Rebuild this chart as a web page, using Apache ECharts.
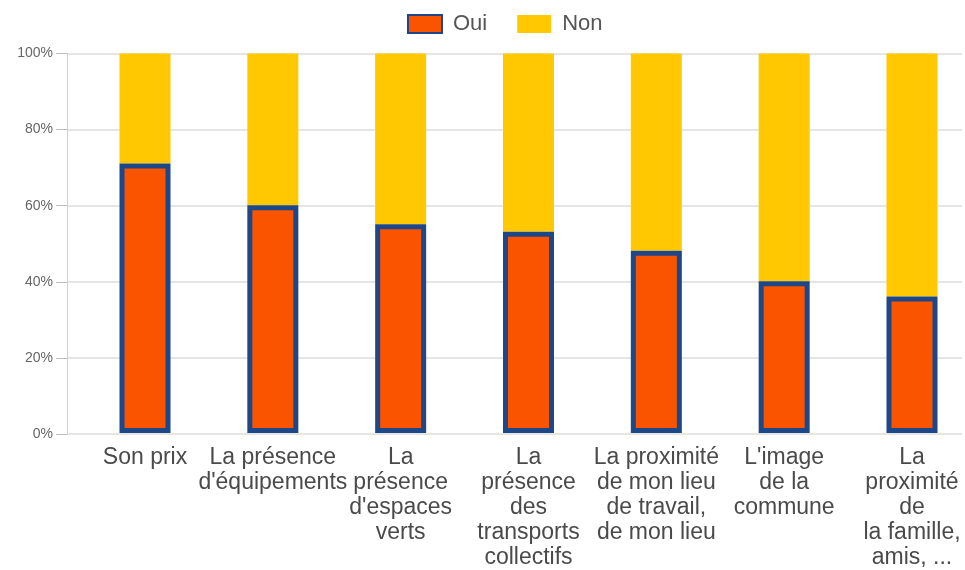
<!DOCTYPE html>
<html>
<head>
<meta charset="utf-8">
<style>html,body{margin:0;padding:0;background:#fff}#c{width:965px;height:570px}</style>
<script src="https://cdn.jsdelivr.net/npm/echarts@6/dist/echarts.min.js"></script>
</head>
<body>
<div id="c"></div>
<script>
const categories = [
  "Son prix",
  "La présence\nd'équipements",
  "La\nprésence\nd'espaces\nverts",
  "La\nprésence\ndes\ntransports\ncollectifs",
  "La proximité\nde mon lieu\nde travail,\nde mon lieu",
  "L'image\nde la\ncommune",
  "La\nproximité\nde\nla famille,\namis, ..."
];
const oui = [71, 60, 55, 53, 48, 40, 36];
const non = [29, 40, 45, 47, 52, 60, 64];
const yTicks = [0, 20, 40, 60, 80, 100];

const FONT = "'Liberation Sans', Arial, sans-serif";
const chart = echarts.init(document.getElementById('c'));
chart.setOption({
  animation: false,
  textStyle: { fontFamily: FONT },
  legend: {
    top: 8, left: 402, itemWidth: 34, itemHeight: 18, itemGap: 30, icon: 'rect',
    textStyle: { fontSize: 22, color: '#555', fontFamily: FONT, padding: [0, 0, 0, 6] },
    data: ['Oui', 'Non']
  },
  grid: [
    { left: 67, right: 3, top: 53.5, bottom: 136 },
    { left: 145, right: 53, top: 53.5, bottom: 136 }
  ],
  xAxis: [
    { gridIndex: 0, type: 'value', min: 0, max: 1, show: false },
    {
      gridIndex: 1, type: 'category', data: categories, boundaryGap: false,
      axisLine: { show: false }, axisTick: { show: false }, splitLine: { show: false },
      axisLabel: { interval: 0, margin: 12, fontSize: 23, lineHeight: 25, color: '#4a4a4a', fontFamily: FONT, verticalAlign: 'top' }
    }
  ],
  yAxis: [
    {
      gridIndex: 0, type: 'value', min: yTicks[0], max: yTicks[yTicks.length - 1], interval: 20,
      axisLine: { show: true, lineStyle: { color: '#cfcfcf', width: 1 } },
      axisTick: { show: true, length: 11, lineStyle: { color: '#bdbdbd' } },
      axisLabel: { formatter: '{value}%', fontSize: 14, color: '#666', margin: 14, fontFamily: FONT },
      splitLine: { lineStyle: { color: '#dcdcdc', width: 1.5 } }
    },
    { gridIndex: 1, type: 'value', min: 0, max: 100, show: false, splitLine: { show: false } }
  ],
  series: [
    {
      name: 'Oui', type: 'bar', stack: 's', xAxisIndex: 1, yAxisIndex: 1, z: 3,
      barWidth: 51, data: oui,
      itemStyle: { color: '#FA5400', borderColor: '#1D4786', borderWidth: 5 }
    },
    {
      name: 'Non', type: 'bar', stack: 's', xAxisIndex: 1, yAxisIndex: 1, z: 2,
      barWidth: 51, data: non,
      itemStyle: { color: '#FFC800' }
    }
  ]
});
</script>
</body>
</html>
